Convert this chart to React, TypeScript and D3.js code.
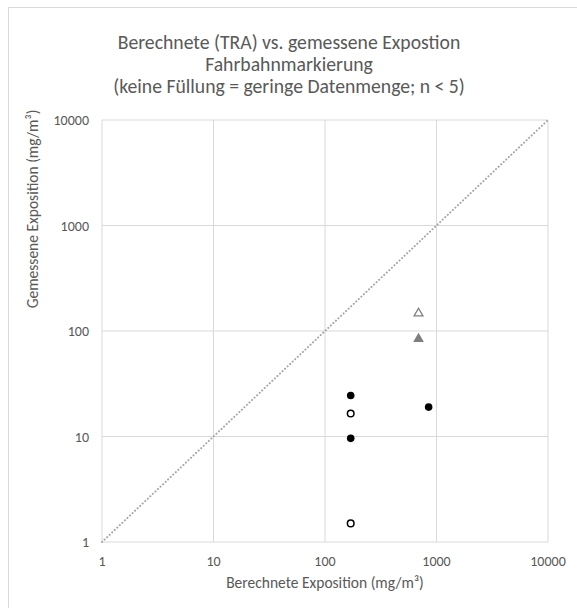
import React, { useEffect, useRef } from 'react';
import * as d3 from 'd3';

// Data (mg/m³)
const filledCircles: [number, number][] = [
  [170, 24.5],
  [170, 9.6],
  [850, 19],
];
const openCircles: [number, number][] = [
  [170, 16.5],
  [170, 1.5],
];
const filledTriangles: [number, number][] = [[690, 84]];
const openTriangles: [number, number][] = [[690, 147]];
const tickValues = [1, 10, 100, 1000, 10000];
const titleLines = [
  'Berechnete (TRA) vs. gemessene Expostion',
  'Fahrbahnmarkierung',
  '(keine Füllung = geringe Datenmenge; n < 5)',
];

const W = 577;
const H = 608;
const font = "Carlito, Lato, 'Open Sans', sans-serif";

const App = () => {
  const svgRef = useRef<SVGSVGElement>(null);

  useEffect(() => {
    d3.select(svgRef.current).selectAll('*').remove();

    const svg = d3.select(svgRef.current)
      .attr('width', W)
      .attr('height', H)
      .style('position', 'absolute')
      .style('left', '0px')
      .style('top', '0px');

    // chart frame
    svg.append('rect')
      .attr('x', 8.5).attr('y', 7.5)
      .attr('width', W + 20).attr('height', H + 20)
      .attr('fill', '#fff')
      .attr('stroke', '#d9d9d9');

    const margin = { top: 120, left: 102, right: 29, bottom: 66 };
    const x = d3.scaleLog().domain([1, 10000]).range([margin.left, W - margin.right]);
    const y = d3.scaleLog().domain([1, 10000]).range([H - margin.bottom, margin.top]);

    // grid
    const grid = svg.append('g');
    tickValues.forEach(v => {
      grid.append('line')
        .attr('x1', x(v)).attr('x2', x(v))
        .attr('y1', y(1)).attr('y2', y(10000))
        .attr('stroke', '#d9d9d9').attr('stroke-width', 1);
      grid.append('line')
        .attr('x1', x(1)).attr('x2', x(10000))
        .attr('y1', y(v)).attr('y2', y(v))
        .attr('stroke', '#d9d9d9').attr('stroke-width', 1);
    });

    // 1:1 diagonal
    svg.append('line')
      .attr('x1', x(1)).attr('y1', y(1))
      .attr('x2', x(10000)).attr('y2', y(10000))
      .attr('stroke', '#a6a6a6')
      .attr('stroke-width', 2)
      .attr('stroke-linecap', 'round')
      .attr('stroke-dasharray', '0.1 3.4');

    // tick labels
    svg.append('g').selectAll('text')
      .data(tickValues)
      .join('text')
      .attr('x', d => x(d))
      .attr('y', 566)
      .attr('text-anchor', 'middle')
      .attr('font-family', font)
      .attr('font-size', 14)
      .attr('fill', '#595959')
      .text(d => d);

    svg.append('g').selectAll('text')
      .data(tickValues)
      .join('text')
      .attr('x', 89)
      .attr('y', d => y(d) + 5)
      .attr('text-anchor', 'end')
      .attr('font-family', font)
      .attr('font-size', 14)
      .attr('fill', '#595959')
      .text(d => d);

    // axis titles
    svg.append('text')
      .attr('x', x(100))
      .attr('y', 588)
      .attr('text-anchor', 'middle')
      .attr('font-family', font)
      .attr('font-size', 15.5)
      .attr('fill', '#595959')
      .text('Berechnete Exposition (mg/m³)');

    svg.append('text')
      .attr('transform', 'translate(38, 209) rotate(-90)')
      .attr('text-anchor', 'middle')
      .attr('font-family', font)
      .attr('font-size', 15.5)
      .attr('fill', '#595959')
      .text('Gemessene Exposition (mg/m³)');

    // title
    svg.append('g').selectAll('text')
      .data(titleLines)
      .join('text')
      .attr('x', 289)
      .attr('y', (d, i) => 49 + i * 22)
      .attr('text-anchor', 'middle')
      .attr('font-family', font)
      .attr('font-size', 19.7)
      .attr('fill', '#595959')
      .text(d => d);

    // points
    const pts = svg.append('g');
    pts.selectAll('circle.filled')
      .data(filledCircles)
      .join('circle')
      .attr('class', 'filled')
      .attr('cx', d => x(d[0])).attr('cy', d => y(d[1]))
      .attr('r', 3.8)
      .attr('fill', '#000');

    pts.selectAll('circle.open')
      .data(openCircles)
      .join('circle')
      .attr('class', 'open')
      .attr('cx', d => x(d[0])).attr('cy', d => y(d[1]))
      .attr('r', 3.3)
      .attr('fill', '#fff')
      .attr('stroke', '#000')
      .attr('stroke-width', 1.5);

    const tri = d3.symbol().type(d3.symbolTriangle).size(50);
    pts.selectAll('path.filledTri')
      .data(filledTriangles)
      .join('path')
      .attr('class', 'filledTri')
      .attr('d', tri)
      .attr('transform', d => `translate(${x(d[0])},${y(d[1])})`)
      .attr('fill', '#7f7f7f');

    const triOpen = d3.symbol().type(d3.symbolTriangle).size(34);
    pts.selectAll('path.openTri')
      .data(openTriangles)
      .join('path')
      .attr('class', 'openTri')
      .attr('d', triOpen)
      .attr('transform', d => `translate(${x(d[0])},${y(d[1])})`)
      .attr('fill', '#fff')
      .attr('stroke', '#7f7f7f')
      .attr('stroke-width', 1.3);
  }, []);

  return <svg ref={svgRef}></svg>;
};

export default App;
